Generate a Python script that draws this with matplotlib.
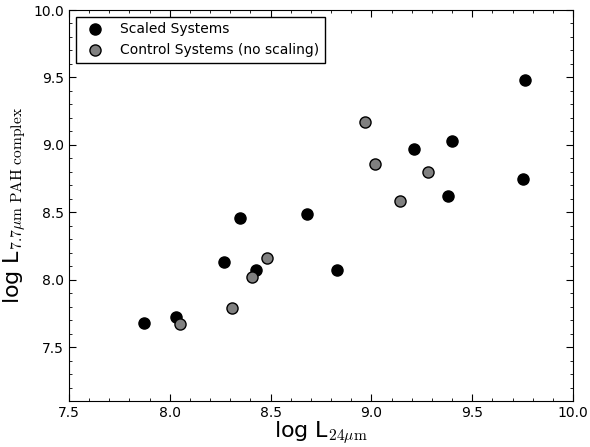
import matplotlib

matplotlib.use("Agg")

import matplotlib.pyplot as plt
from matplotlib.ticker import MultipleLocator

plt.rcParams["mathtext.fontset"] = "cm"

scaled_x = [7.87, 8.03, 8.27, 8.43, 8.35, 8.68, 8.83, 9.21, 9.40, 9.38, 9.75, 9.76]
scaled_y = [7.68, 7.72, 8.13, 8.07, 8.46, 8.49, 8.07, 8.97, 9.03, 8.62, 8.75, 9.48]

control_x = [8.05, 8.31, 8.41, 8.48, 8.97, 9.02, 9.14, 9.28]
control_y = [7.67, 7.79, 8.02, 8.16, 9.17, 8.86, 8.58, 8.80]

fig = plt.figure(figsize=(5.9, 4.47), dpi=100)
ax = fig.add_axes([69 / 590, 1 - 401 / 447, (573 - 69) / 590, (401 - 10) / 447])

ax.plot(scaled_x, scaled_y, "o", color="black", markersize=8,
        markeredgecolor="black", label="Scaled Systems")
ax.plot(control_x, control_y, "o", color="#808080", markersize=8,
        markeredgecolor="black", label="Control Systems (no scaling)")

ax.set_xlim(7.5, 10.0)
ax.set_ylim(7.1, 10.0)
ax.set_xticks([7.5, 8.0, 8.5, 9.0, 9.5, 10.0])
ax.set_yticks([7.5, 8.0, 8.5, 9.0, 9.5, 10.0])
ax.xaxis.set_minor_locator(MultipleLocator(0.1))
ax.yaxis.set_minor_locator(MultipleLocator(0.1))
ax.tick_params(which="both", direction="in", top=True, right=True, labelsize=10)
ax.tick_params(which="major", length=5)
ax.tick_params(which="minor", length=2.5)

ax.set_xlabel(r"log L$_{24\mu\rm{m}}$", fontsize=16, labelpad=0)
ax.set_ylabel(r"log L$_{7.7\mu\rm{m\ PAH\ complex}}$", fontsize=16)

leg = ax.legend(loc="upper left", numpoints=1, fancybox=False, fontsize=10,
                edgecolor="black", framealpha=1)
leg.get_frame().set_linewidth(1.0)

fig.savefig("out.png", dpi=100)
